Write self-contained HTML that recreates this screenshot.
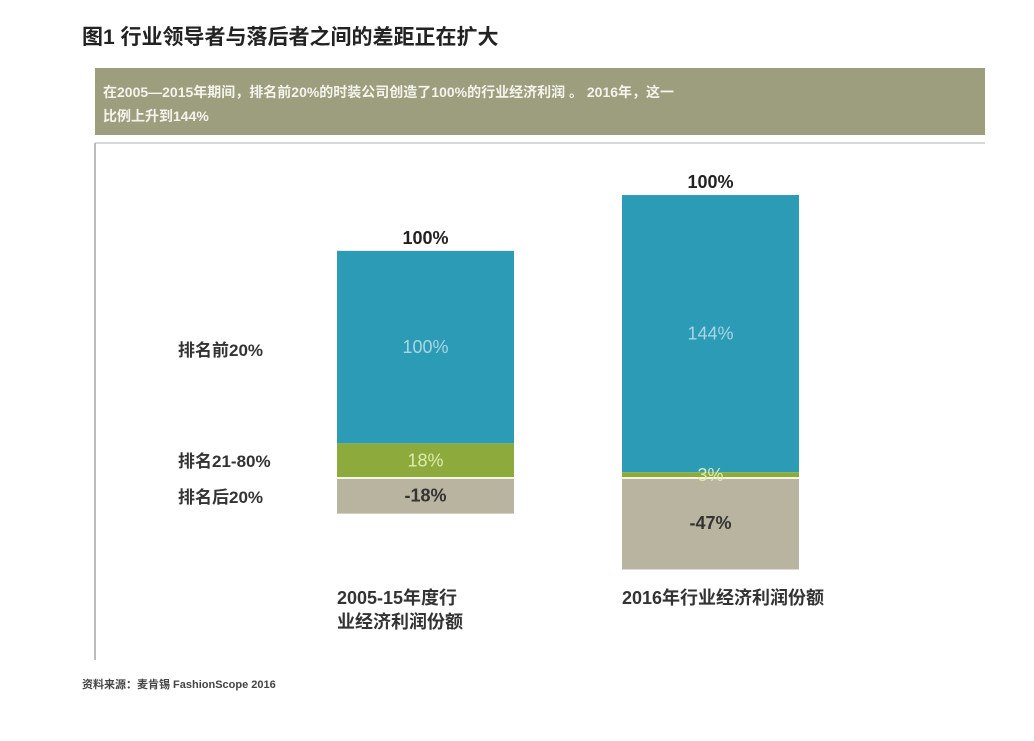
<!DOCTYPE html>
<html><head><meta charset="utf-8"><style>
body{margin:0;width:1034px;height:736px;background:#fff;overflow:hidden;font-family:"Liberation Sans","Noto Sans CJK SC",sans-serif;}
</style></head><body>
<svg width="1034" height="736" xmlns="http://www.w3.org/2000/svg" font-family="Liberation Sans, Noto Sans CJK SC, sans-serif">
<text x="82" y="44" font-size="21" font-weight="bold" fill="#222">图1 行业领导者与落后者之间的差距正在扩大</text>
<rect x="95" y="68" width="890" height="67" fill="#9c9e7e"/>
<text x="103" y="97" font-size="14" font-weight="bold" fill="#f4f4ec">在2005—2015年期间，排名前20%的时装公司创造了100%的行业经济利润 。 2016年，这一</text>
<text x="103" y="121" font-size="14" font-weight="bold" fill="#f4f4ec">比例上升到144%</text>
<line x1="95" y1="143" x2="985" y2="143" stroke="#ccc" stroke-width="1.5"/>
<line x1="95" y1="143" x2="95" y2="660" stroke="#bbb" stroke-width="2"/>
<g id="bars"></g>
<text x="178" y="356" font-size="17" font-weight="bold" fill="#333">排名前20%</text>
<text x="178" y="467" font-size="17" font-weight="bold" fill="#333">排名21-80%</text>
<text x="178" y="503" font-size="17" font-weight="bold" fill="#333">排名后20%</text>
<text x="337" y="604" font-size="18" font-weight="bold" fill="#333">2005-15年度行</text>
<text x="337" y="628" font-size="18" font-weight="bold" fill="#333">业经济利润份额</text>
<text x="622" y="604" font-size="18" font-weight="bold" fill="#333">2016年行业经济利润份额</text>
<text x="82" y="688" font-size="11" font-weight="bold" fill="#444">资料来源：麦肯锡 FashionScope 2016</text>
</svg>
<script>
const categories=["2005-15","2016"];
const top20=[100,144];
const mid60=[18,3];
const bottom20=[-18,-47];
const totals=[100,100];
const ns="http://www.w3.org/2000/svg";
const g=document.getElementById("bars");
const zeroY=478, scale=1.925;
const y=v=>zeroY-v*scale;
const barX=[337,622], barW=177;
function mk(tag,attrs){const e=document.createElementNS(ns,tag);for(const k in attrs)e.setAttribute(k,attrs[k]);g.appendChild(e);return e;}
categories.forEach((c,i)=>{
  const x=barX[i];
  const r1=mk("rect",{x:x,y:y(mid60[i]+top20[i]),width:barW,height:top20[i]*scale,fill:"#2b9bb6"});
  
  
  const r2=mk("rect",{x:x,y:y(mid60[i]),width:barW,height:mid60[i]*scale,fill:"#8cab3c"});
  
  
  const r3=mk("rect",{x:x,y:zeroY+1,width:barW,height:-bottom20[i]*scale,fill:"#b9b49f"});
  
  
  const ln=mk("line",{x1:x,x2:x+barW,y1:zeroY,y2:zeroY,stroke:"#f6f6e6","stroke-width":2});
  
  
  const cx=x+barW/2;
  const t0=mk("text",{x:cx,y:y(mid60[i]+top20[i])-7,"text-anchor":"middle","font-size":18,"font-weight":"bold",fill:"#222"});
  t0.textContent=totals[i]+"%";
  
  
  const t1=mk("text",{x:cx,y:y(mid60[i]+top20[i]/2)+6,"text-anchor":"middle","font-size":18,fill:"#a9d6e2"});
  t1.textContent=top20[i]+"%";
  
  
  const t2=mk("text",{x:cx,y:y(mid60[i]/2)+6,"text-anchor":"middle","font-size":18,fill:"#dfeab0"});
  t2.textContent=mid60[i]+"%";
  
  
  const t3=mk("text",{x:cx,y:y(bottom20[i]/2)+6,"text-anchor":"middle","font-size":18,"font-weight":"bold",fill:"#333"});
  t3.textContent=bottom20[i]+"%";
  
  
});
</script>
</body></html>
